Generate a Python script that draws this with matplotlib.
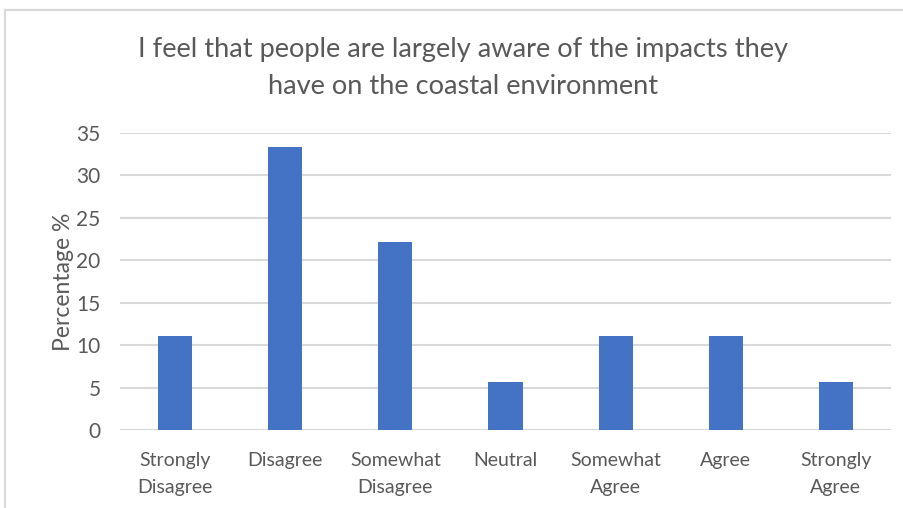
import matplotlib.pyplot as plt
from matplotlib.lines import Line2D
import numpy as np

categories = ['Strongly\nDisagree', 'Disagree', 'Somewhat\nDisagree', 'Neutral',
              'Somewhat\nAgree', 'Agree', 'Strongly\nAgree']
percentages = [11.1, 33.3, 22.2, 5.6, 11.1, 11.1, 5.6]
yticks = [0, 5, 10, 15, 20, 25, 30, 35]

plt.rcParams['font.family'] = ['Lato', 'DejaVu Sans']
text_color = '#595959'
grid_color = '#d9d9d9'

W, H = 904, 508
fig = plt.figure(figsize=(W / 100, H / 100), dpi=100)
ax = fig.add_axes([120 / W, 1 - 430 / H, 771 / W, 297 / H])

x = np.arange(len(categories))
ax.bar(x, percentages, width=0.31, color='#4472C4', zorder=3)

ax.set_xlim(-0.5, len(categories) - 0.5)
ax.set_ylim(0, 35)
ax.set_yticks(yticks)
ax.set_xticks(x)
ax.set_xticklabels(categories, fontsize=14, color=text_color, linespacing=1.7)
ax.tick_params(axis='y', labelsize=15, labelcolor=text_color, length=0, pad=14)
ax.tick_params(axis='x', length=0, pad=16)
ax.yaxis.grid(True, color=grid_color, linewidth=1.5, zorder=0)
for s in ax.spines.values():
    s.set_visible(False)

ax.set_ylabel('Percentage %', fontsize=16.5, color=text_color, labelpad=2)

fig.text(463 / W, 1 - 68 / H,
         'I feel that people are largely aware of the impacts they\nhave on the coastal environment',
         ha='center', va='center', fontsize=19.6, color=text_color, linespacing=1.65)

# chart frame edges
fig.add_artist(Line2D([5 / W, 1], [1 - 10 / H, 1 - 10 / H], color=grid_color, linewidth=1.5))
fig.add_artist(Line2D([5 / W, 5 / W], [0, 1 - 10 / H], color=grid_color, linewidth=1.5))

fig.savefig('out.png', dpi=100)
